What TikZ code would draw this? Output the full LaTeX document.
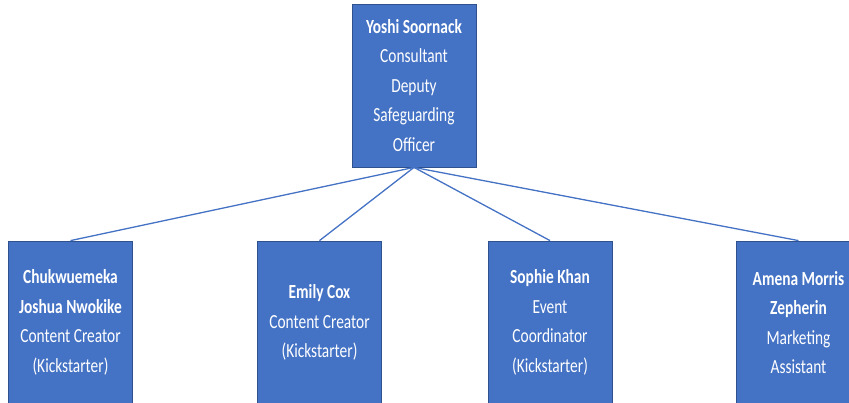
\documentclass[tikz,border=0pt]{standalone}
\usepackage{fontspec}
\setmainfont{Carlito}[FakeStretch=0.77]
\definecolor{boxblue}{HTML}{4472C4}
\definecolor{edgeblue}{HTML}{2F528F}
\tikzset{
  staff/.style={draw=edgeblue, line width=0.8pt, fill=boxblue, text=white,
    minimum width=124pt, minimum height=163pt, align=center, inner sep=2pt,
    font=\fontsize{20}{29.5}\selectfont},
  link/.style={draw=boxblue, line width=1.3pt}
}
\begin{document}
\begin{tikzpicture}[x=1pt,y=-1pt]
  % Frame of the picture
  \useasboundingbox (0,0) rectangle (849,403);

  % Head of the team
  \node[staff] (yoshi) at (414,85.5) {\textbf{Yoshi Soornack}\\Consultant\\Deputy\\Safeguarding\\Officer};

  % Team members
  \node[staff] (chukwu) at (70.5,322.5) {\textbf{Chukwuemeka}\\\textbf{Joshua Nwokike}\\Content Creator\\(Kickstarter)};
  \node[staff] (emily) at (319.5,322.5) {\textbf{Emily Cox}\\Content Creator\\(Kickstarter)};
  \node[staff] (sophie) at (550,322.5) {\textbf{Sophie Khan}\\Event\\Coordinator\\(Kickstarter)};
  \node[staff] (amena) at (798.5,322.5) {\textbf{Amena Morris}\\\textbf{Zepherin}\\Marketing\\Assistant};

  % Connectors
  \foreach \member in {chukwu,emily,sophie,amena}
    \draw[link] (yoshi.south) -- (\member.north);
\end{tikzpicture}
\end{document}
